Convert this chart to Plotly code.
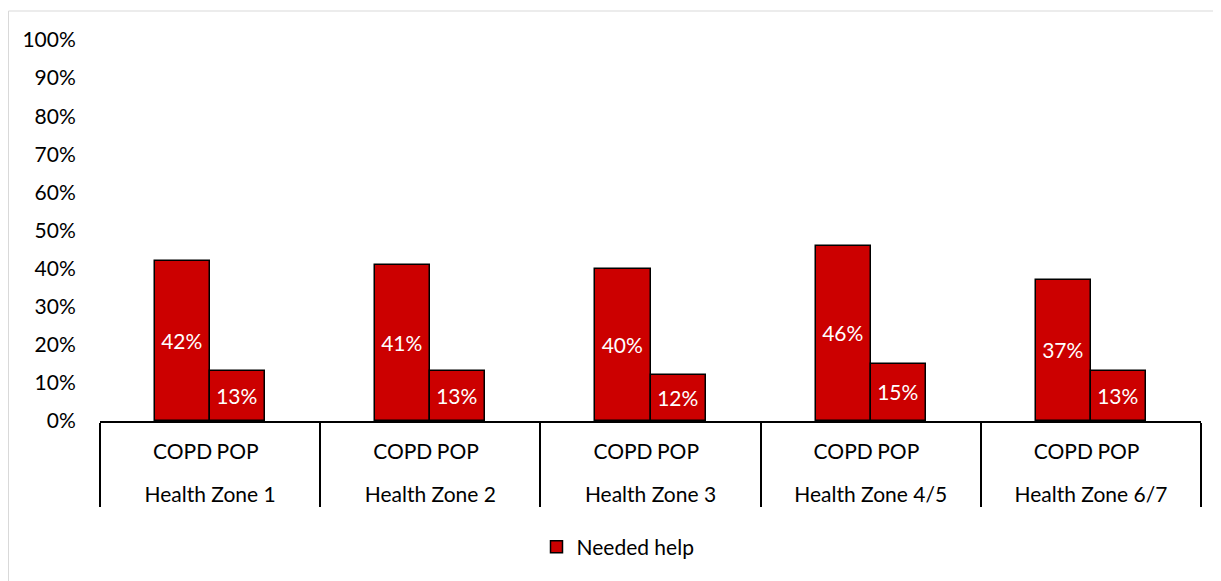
import plotly.graph_objects as go

zones = ["Health Zone 1", "Health Zone 2", "Health Zone 3", "Health Zone 4/5", "Health Zone 6/7"]
groups = ["COPD", "POP"]
copd = [0.42, 0.41, 0.40, 0.46, 0.37]
pop = [0.13, 0.13, 0.12, 0.15, 0.13]
tick_vals = [i / 10 for i in range(11)]
tick_text = [f"{i*10}%" for i in range(11)]

# build multicategory with padding slots so bars sit in the middle of each zone
lvl1, lvl2, yv, txt = [], [], [], []
for z, c, p in zip(zones, copd, pop):
    for lab, v in [(" ", None), (groups[0], c), (groups[1], p), ("  ", None)]:
        lvl1.append("<br>" + z)
        lvl2.append(lab)
        yv.append(v)
        txt.append("" if v is None else f"{round(v*100)}%")

FONT = "Lato, Calibri, Carlito, sans-serif"
FS = 21
RED = "#CC0000"
CLEAR = "rgba(0,0,0,0)"

fig = go.Figure()
fig.add_trace(go.Bar(
    x=[lvl1, lvl2], y=yv, text=txt, name="Needed help",
    marker=dict(color=RED, line=dict(color="black", width=1.5)),
    textposition="inside", insidetextanchor="middle",
    textfont=dict(color="white", size=FS, family=FONT),
    width=1.0,
))

W, H = 1213, 573
L, R, T, B = 92, 20, 32, 160
pw, ph = W - L - R, H - T - B

fig.update_layout(
    width=W, height=H,
    margin=dict(l=L, r=R, t=T, b=B),
    paper_bgcolor="white", plot_bgcolor="white",
    bargap=0,
    font=dict(family=FONT, size=FS, color="black"),
    showlegend=True,
    legend=dict(orientation="h", x=(610 - L) / pw, xanchor="center",
                y=(T + ph - 539) / ph, yanchor="middle",
                font=dict(size=FS, family=FONT)),
    yaxis=dict(range=[0, 1], tickvals=tick_vals, ticktext=tick_text,
               showgrid=False, zeroline=False, showline=False,
               ticks="outside", ticklen=19, tickcolor=CLEAR,
               tickfont=dict(size=FS)),
    xaxis=dict(type="multicategory", showline=True, linecolor="black", linewidth=1.5,
               showdividers=True, dividercolor="black", dividerwidth=1.5,
               ticks="", ticklabelstandoff=11,
               tickangle=0, tickfont=dict(size=FS), showgrid=False),
    shapes=[dict(type="rect", xref="paper", yref="paper",
                 x0=(0.5 - L) / pw, x1=1.0 + 40 / pw,
                 y0=-(B + 20) / ph, y1=1 + (T - 3) / ph,
                 line=dict(color="#d9d9d9", width=1))],
)

fig.write_html("out.html")
